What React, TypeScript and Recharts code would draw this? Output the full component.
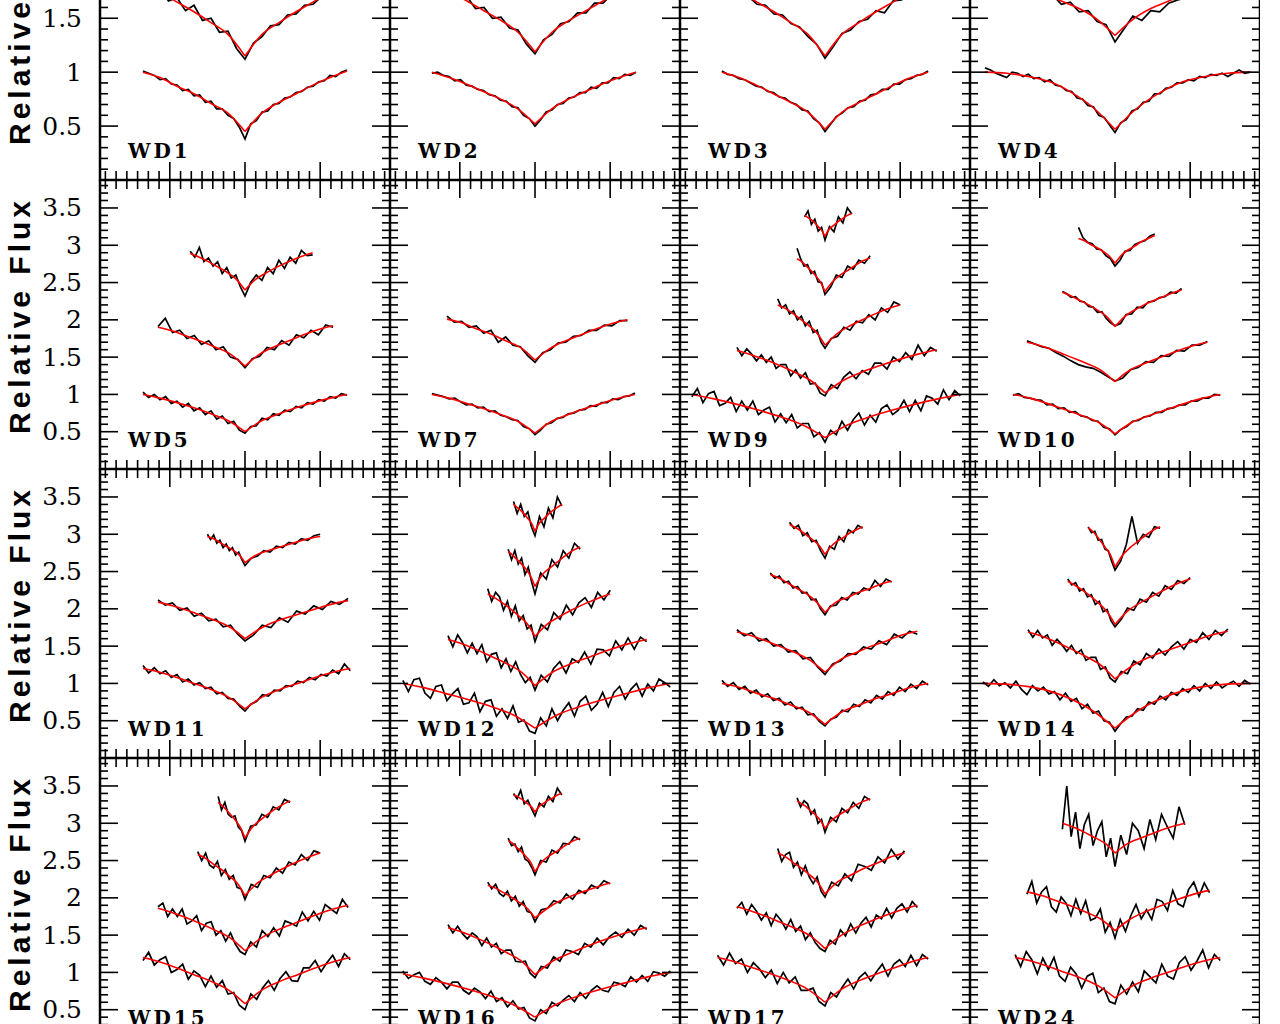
import React from 'react';
import { LineChart, Line, XAxis, YAxis, ReferenceArea } from 'recharts';

// ---------- axis ticks ----------
const xTicks = [-130,-120,-110,-100,-90,-80,-70,-60,-50,-40,-30,-20,-10,0,10,20,30,40,50,60,70,80,90,100,110,120,130];
const xMajor = [-70, 0, 70];
const yTicksTop = [0.1,0.2,0.3,0.4,0.5,0.6,0.7,0.8,0.9,1,1.1,1.2,1.3,1.4,1.5,1.6,1.7,1.8,1.9,2,2.1,2.2,2.3,2.4,2.5,2.6];
const yTicksMain = [0.1,0.2,0.3,0.4,0.5,0.6,0.7,0.8,0.9,1,1.1,1.2,1.3,1.4,1.5,1.6,1.7,1.8,1.9,2,2.1,2.2,2.3,2.4,2.5,2.6,2.7,2.8,2.9,3,3.1,3.2,3.3,3.4,3.5,3.6,3.7,3.8];
const yMajor = [0.5, 1, 1.5, 2, 2.5, 3, 3.5];
const yMajorLabels = ['0.5', '1', '1.5', '2', '2.5', '3', '3.5'];
const yDomainTop = [0, 2.68];
const yDomainMain = [0, 3.875];
const xDomain = [-135, 135];

// ---------- WD1 ----------
const wd1_x = [[-95,95],[-95,95]];
const wd1_o1 = [1.01,0.99,0.97,0.93,0.94,0.89,0.88,0.83,0.84,0.78,0.79,0.72,0.73,0.66,0.66,0.60,0.57,0.49,0.38,0.52,0.55,0.63,0.64,0.70,0.71,0.76,0.77,0.81,0.82,0.86,0.87,0.91,0.92,0.97,0.96,1.00,1.02];
const wd1_m1 = [1.00,0.95,0.87,0.80,0.71,0.62,0.45,0.62,0.72,0.80,0.88,0.95,1.01];
const wd1_o2 = [1.83,1.76,1.78,1.66,1.69,1.57,1.62,1.48,1.50,1.37,1.38,1.22,1.12,1.27,1.33,1.43,1.44,1.53,1.54,1.62,1.63,1.70,1.71,1.78,1.79];
const wd1_m2 = [1.80,1.74,1.65,1.56,1.46,1.35,1.15,1.35,1.46,1.56,1.65,1.74,1.80];
// ---------- WD2 ----------
const wd2_x = [[-96,94],[-95,95]];
const wd2_o1 = [0.99,1.00,0.97,0.96,0.92,0.93,0.88,0.87,0.84,0.83,0.79,0.78,0.74,0.73,0.68,0.67,0.60,0.57,0.50,0.56,0.63,0.65,0.70,0.71,0.76,0.77,0.81,0.81,0.86,0.85,0.90,0.90,0.95,0.94,0.98,0.97,1.00];
const wd2_m1 = [1.00,0.95,0.89,0.82,0.75,0.66,0.52,0.66,0.75,0.82,0.89,0.95,1.00];
const wd2_o2 = [1.82,1.75,1.76,1.68,1.70,1.59,1.60,1.50,1.51,1.41,1.39,1.26,1.17,1.30,1.35,1.45,1.47,1.55,1.55,1.64,1.64,1.72,1.71,1.79,1.78];
const wd2_m2 = [1.80,1.74,1.66,1.57,1.48,1.37,1.19,1.37,1.48,1.57,1.66,1.74,1.80];
// ---------- WD3 ----------
const wd3_x = [[-96,96],[-95,95]];
const wd3_o1 = [1.01,0.98,0.97,0.94,0.93,0.90,0.87,0.86,0.82,0.81,0.77,0.76,0.72,0.70,0.65,0.64,0.57,0.53,0.45,0.52,0.59,0.62,0.67,0.68,0.73,0.74,0.79,0.80,0.84,0.84,0.89,0.89,0.93,0.94,0.97,0.98,1.01];
const wd3_m1 = [1.00,0.95,0.88,0.80,0.72,0.63,0.47,0.63,0.72,0.80,0.88,0.95,1.00];
const wd3_o2 = [1.79,1.78,1.72,1.70,1.63,1.62,1.54,1.53,1.45,1.42,1.33,1.26,1.13,1.24,1.36,1.39,1.47,1.49,1.57,1.55,1.66,1.67,1.74,1.76,1.81];
const wd3_m2 = [1.80,1.74,1.65,1.56,1.46,1.35,1.15,1.35,1.46,1.56,1.65,1.74,1.80];
// ---------- WD4 ----------
const wd4_x = [[-121,126],[-100,100]];
const wd4_o1 = [1.04,1.02,0.99,0.97,0.95,1.00,0.99,0.96,0.98,0.94,0.95,0.91,0.93,0.88,0.87,0.83,0.82,0.76,0.75,0.69,0.68,0.60,0.58,0.51,0.44,0.53,0.56,0.64,0.66,0.72,0.73,0.80,0.80,0.85,0.86,0.90,0.90,0.93,0.92,0.96,0.95,0.98,0.97,0.99,0.96,0.99,1.02,0.99,1.00];
const wd4_m1 = [1.00,0.99,0.96,0.91,0.81,0.67,0.47,0.67,0.81,0.91,0.96,0.99,1.00];
const wd4_o2 = [1.87,1.83,1.78,1.79,1.71,1.72,1.63,1.65,1.56,1.57,1.47,1.44,1.28,1.40,1.52,1.48,1.57,1.56,1.64,1.67,1.69,1.76,1.78,1.81,1.86];
const wd4_m2 = [1.85,1.80,1.73,1.66,1.59,1.49,1.34,1.49,1.59,1.66,1.73,1.80,1.85];
// ---------- WD5 ----------
const wd5_x = [[-95,95],[-81,82],[-51,63]];
const wd5_o1 = [1.03,0.96,1.00,0.93,0.97,0.88,0.91,0.83,0.88,0.78,0.82,0.73,0.78,0.67,0.71,0.61,0.64,0.52,0.48,0.57,0.58,0.68,0.66,0.74,0.72,0.79,0.77,0.84,0.82,0.89,0.87,0.93,0.91,0.97,0.95,1.01,0.99];
const wd5_m1 = [1.00,0.95,0.89,0.82,0.74,0.65,0.50,0.65,0.74,0.82,0.89,0.95,1.00];
const wd5_o2 = [1.91,2.02,1.83,1.86,1.75,1.79,1.67,1.72,1.60,1.64,1.50,1.47,1.36,1.48,1.51,1.63,1.60,1.72,1.66,1.80,1.76,1.86,1.80,1.93,1.90];
const wd5_m2 = [1.90,1.85,1.78,1.71,1.63,1.54,1.38,1.54,1.64,1.72,1.80,1.87,1.92];
const wd5_o3 = [2.92,2.84,2.97,2.78,2.83,2.72,2.78,2.62,2.70,2.56,2.60,2.44,2.32,2.50,2.60,2.53,2.70,2.62,2.80,2.69,2.84,2.76,2.93,2.86,2.87];
const wd5_m3 = [2.89,2.84,2.78,2.71,2.64,2.55,2.40,2.55,2.64,2.72,2.79,2.85,2.90];
// ---------- WD7 ----------
const wd7_x = [[-96,93],[-82,86]];
const wd7_o1 = [1.01,0.99,0.97,0.94,0.95,0.90,0.86,0.87,0.82,0.83,0.77,0.78,0.72,0.70,0.66,0.65,0.57,0.54,0.46,0.52,0.60,0.62,0.68,0.69,0.74,0.75,0.79,0.80,0.85,0.84,0.89,0.89,0.94,0.93,0.97,0.98,1.02];
const wd7_m1 = [1.00,0.95,0.88,0.81,0.73,0.64,0.48,0.64,0.73,0.81,0.88,0.95,1.00];
const wd7_o2 = [2.05,1.97,1.98,1.90,1.92,1.82,1.86,1.70,1.77,1.66,1.64,1.52,1.43,1.56,1.60,1.69,1.70,1.78,1.79,1.86,1.86,1.93,1.92,1.99,1.99];
const wd7_m2 = [2.01,1.96,1.88,1.81,1.72,1.63,1.46,1.62,1.72,1.80,1.88,1.95,2.00];
// ---------- WD9 ----------
const wd9_x = [[-124,126],[-82,104],[-44,70],[-26,42],[-19,25]];
const wd9_o1 = [0.97,1.08,0.89,1.01,1.04,0.85,0.88,0.96,0.77,0.91,0.79,0.91,0.73,0.79,0.83,0.63,0.74,0.62,0.73,0.55,0.61,0.61,0.43,0.49,0.36,0.52,0.46,0.64,0.52,0.66,0.75,0.59,0.72,0.63,0.81,0.86,0.73,0.79,0.92,0.77,0.92,0.78,0.98,0.95,0.87,1.06,0.93,1.05,0.98];
const wd9_m1 = [1.00,0.94,0.87,0.79,0.70,0.59,0.42,0.59,0.70,0.79,0.87,0.94,1.00];
const wd9_o2 = [1.63,1.52,1.61,1.54,1.45,1.53,1.43,1.50,1.35,1.40,1.40,1.25,1.33,1.22,1.29,1.14,1.15,1.02,0.98,1.13,1.08,1.23,1.30,1.21,1.32,1.27,1.42,1.42,1.34,1.50,1.44,1.56,1.47,1.66,1.52,1.63,1.58];
const wd9_m2 = [1.59,1.53,1.46,1.38,1.29,1.19,1.02,1.19,1.30,1.39,1.47,1.54,1.60];
const wd9_o3 = [2.28,2.16,2.20,2.08,2.12,2.00,2.05,1.92,1.98,1.83,1.86,1.70,1.62,1.75,1.78,1.90,1.86,1.98,1.96,2.07,2.00,2.16,2.10,2.24,2.20];
const wd9_m3 = [2.20,2.15,2.08,2.00,1.92,1.82,1.66,1.82,1.92,2.00,2.08,2.15,2.20];
const wd9_o4 = [2.96,2.82,2.72,2.74,2.62,2.65,2.51,2.50,2.34,2.44,2.60,2.57,2.72,2.68,2.80,2.76,2.86];
const wd9_m4 = [2.82,2.78,2.72,2.66,2.59,2.51,2.38,2.51,2.60,2.66,2.73,2.79,2.83];
const wd9_o5 = [3.38,3.46,3.28,3.35,3.19,3.24,3.07,3.25,3.18,3.38,3.30,3.50,3.42];
const wd9_m5 = [3.40,3.37,3.34,3.30,3.25,3.20,3.12,3.22,3.27,3.32,3.36,3.40,3.43];
// ---------- WD10 ----------
const wd10_x = [[-95,98],[-82,86],[-49,62],[-34,37]];
const wd10_o1 = [0.99,1.01,0.96,0.95,0.93,0.92,0.86,0.87,0.81,0.82,0.76,0.77,0.71,0.70,0.65,0.64,0.56,0.54,0.46,0.53,0.57,0.64,0.65,0.70,0.71,0.76,0.76,0.81,0.82,0.86,0.86,0.91,0.91,0.95,0.95,1.00,0.99];
const wd10_m1 = [1.00,0.95,0.88,0.80,0.72,0.63,0.47,0.63,0.72,0.80,0.88,0.95,1.00];
const wd10_o2 = [1.72,1.68,1.64,1.62,1.56,1.51,1.45,1.40,1.37,1.35,1.30,1.24,1.18,1.22,1.33,1.36,1.44,1.43,1.52,1.51,1.59,1.58,1.66,1.66,1.71];
const wd10_m2 = [1.70,1.65,1.58,1.50,1.42,1.33,1.17,1.33,1.42,1.50,1.58,1.65,1.70];
const wd10_o3 = [2.38,2.35,2.30,2.31,2.25,2.24,2.18,2.17,2.10,2.11,2.02,1.96,1.92,1.95,2.07,2.08,2.17,2.16,2.24,2.25,2.30,2.31,2.37,2.36,2.42];
const wd10_m3 = [2.37,2.32,2.26,2.20,2.13,2.05,1.91,2.06,2.15,2.23,2.29,2.35,2.40];
const wd10_o4 = [3.24,3.10,3.04,3.02,2.95,2.94,2.86,2.82,2.72,2.80,2.92,2.93,3.01,3.04,3.06,3.12,3.15];
const wd10_m4 = [3.09,3.06,3.01,2.97,2.92,2.86,2.76,2.87,2.94,2.99,3.05,3.09,3.13];
// ---------- WD11 ----------
const wd11_x = [[-95,98],[-81,96],[-35,70]];
const wd11_o1 = [1.24,1.14,1.21,1.13,1.17,1.08,1.12,1.02,1.06,0.98,1.01,0.93,0.95,0.86,0.88,0.80,0.79,0.70,0.63,0.72,0.76,0.85,0.83,0.91,0.90,0.97,0.96,1.03,1.01,1.08,1.05,1.12,1.10,1.18,1.13,1.26,1.17];
const wd11_m1 = [1.20,1.15,1.08,1.00,0.92,0.82,0.66,0.82,0.92,1.00,1.08,1.15,1.20];
const wd11_o2 = [2.12,2.05,2.08,1.98,2.01,1.90,1.94,1.84,1.86,1.76,1.78,1.66,1.57,1.65,1.78,1.75,1.88,1.82,1.97,1.93,2.04,1.99,2.10,2.06,2.14];
const wd11_m2 = [2.09,2.04,1.98,1.91,1.84,1.75,1.60,1.75,1.85,1.92,1.99,2.06,2.11];
const wd11_o3 = [3.00,2.93,2.99,2.88,2.92,2.82,2.87,2.78,2.82,2.72,2.76,2.66,2.58,2.68,2.71,2.78,2.76,2.84,2.82,2.89,2.87,2.94,2.92,2.98,3.00];
const wd11_m3 = [2.97,2.94,2.89,2.84,2.79,2.73,2.62,2.73,2.79,2.84,2.89,2.94,2.97];
// ---------- WD12 ----------
const wd12_x = [[-123,126],[-81,104],[-44,70],[-25,42],[-20,25]];
const wd12_o1 = [1.04,0.89,1.05,1.07,0.87,0.80,0.96,0.98,0.77,0.86,0.93,0.72,0.74,0.87,0.62,0.76,0.78,0.56,0.66,0.53,0.70,0.48,0.51,0.36,0.33,0.54,0.43,0.66,0.50,0.64,0.74,0.56,0.76,0.83,0.64,0.72,0.88,0.69,0.88,0.96,0.79,0.92,1.00,0.83,0.99,0.90,1.06,1.01,0.95];
const wd12_m1 = [1.00,0.94,0.86,0.78,0.69,0.58,0.40,0.58,0.69,0.78,0.86,0.94,1.00];
const wd12_o2 = [1.64,1.49,1.65,1.55,1.41,1.54,1.40,1.52,1.29,1.39,1.41,1.21,1.33,1.16,1.29,1.12,1.01,1.08,0.91,1.11,1.02,1.20,1.29,1.14,1.33,1.28,1.42,1.26,1.46,1.45,1.37,1.57,1.45,1.61,1.46,1.62,1.56];
const wd12_m2 = [1.59,1.53,1.45,1.36,1.27,1.16,0.97,1.16,1.27,1.36,1.45,1.53,1.59];
const wd12_o3 = [2.27,2.10,2.22,2.16,1.98,2.10,1.90,2.04,1.84,1.91,1.73,1.78,1.56,1.79,1.72,1.95,1.86,2.05,1.92,2.08,2.15,2.02,2.22,2.12,2.25];
const wd12_m3 = [2.20,2.14,2.07,1.99,1.90,1.80,1.63,1.80,1.90,1.99,2.07,2.14,2.20];
const wd12_o4 = [2.80,2.66,2.78,2.60,2.68,2.46,2.56,2.36,2.20,2.48,2.40,2.66,2.56,2.78,2.68,2.88,2.80];
const wd12_m4 = [2.77,2.72,2.66,2.60,2.53,2.44,2.30,2.46,2.55,2.63,2.71,2.78,2.83];
const wd12_o5 = [3.44,3.28,3.40,3.24,3.30,3.10,2.98,3.24,3.10,3.35,3.22,3.50,3.38];
const wd12_m5 = [3.40,3.36,3.32,3.27,3.21,3.15,3.04,3.15,3.21,3.27,3.32,3.36,3.40];
// ---------- WD13 ----------
const wd13_x = [[-96,96],[-82,86],[-51,62],[-33,35]];
const wd13_o1 = [1.04,0.96,1.01,0.92,0.96,0.87,0.91,0.82,0.86,0.77,0.80,0.71,0.75,0.66,0.68,0.58,0.59,0.49,0.43,0.52,0.55,0.64,0.62,0.72,0.69,0.78,0.74,0.84,0.79,0.89,0.84,0.95,0.89,0.99,0.93,1.03,0.98];
const wd13_m1 = [1.00,0.95,0.87,0.80,0.71,0.62,0.45,0.62,0.71,0.80,0.87,0.95,1.00];
const wd13_o2 = [1.72,1.64,1.68,1.57,1.60,1.50,1.52,1.42,1.44,1.33,1.35,1.22,1.12,1.26,1.30,1.40,1.39,1.49,1.46,1.57,1.52,1.66,1.61,1.70,1.66];
const wd13_m2 = [1.69,1.64,1.57,1.49,1.41,1.31,1.15,1.32,1.41,1.50,1.57,1.65,1.70];
const wd13_o3 = [2.48,2.41,2.44,2.35,2.37,2.28,2.30,2.21,2.22,2.12,2.13,2.00,1.92,2.04,2.05,2.15,2.12,2.22,2.20,2.28,2.25,2.38,2.30,2.40,2.36];
const wd13_m3 = [2.46,2.41,2.34,2.27,2.20,2.10,1.95,2.09,2.15,2.22,2.27,2.33,2.37];
const wd13_o4 = [3.16,3.08,3.12,2.98,3.02,2.90,2.92,2.78,2.68,2.84,2.80,2.97,2.90,3.06,3.02,3.12,3.08];
const wd13_m4 = [3.13,3.09,3.04,2.98,2.92,2.85,2.73,2.84,2.91,2.96,3.02,3.06,3.10];
// ---------- WD14 ----------
const wd14_x = [[-123,126],[-81,105],[-44,70],[-25,42]];
const wd14_o1 = [1.02,0.96,1.05,0.97,1.01,0.94,1.03,0.92,0.85,0.97,0.90,0.95,0.86,0.89,0.78,0.87,0.76,0.80,0.66,0.72,0.60,0.63,0.50,0.48,0.36,0.46,0.55,0.56,0.66,0.64,0.75,0.72,0.83,0.78,0.88,0.84,0.93,0.88,0.97,0.90,1.00,0.93,1.02,0.94,0.99,1.03,0.96,1.04,0.99];
const wd14_m1 = [1.00,0.99,0.96,0.90,0.79,0.63,0.40,0.63,0.79,0.90,0.96,0.99,1.00];
const wd14_o2 = [1.72,1.62,1.71,1.61,1.65,1.51,1.59,1.52,1.43,1.51,1.40,1.45,1.31,1.35,1.35,1.19,1.22,1.07,1.02,1.16,1.13,1.30,1.25,1.40,1.34,1.46,1.38,1.49,1.56,1.46,1.59,1.55,1.68,1.59,1.71,1.64,1.73];
const wd14_m2 = [1.69,1.63,1.55,1.46,1.36,1.25,1.06,1.25,1.37,1.46,1.55,1.64,1.70];
const wd14_o3 = [2.40,2.32,2.35,2.24,2.27,2.16,2.19,2.06,2.10,1.96,1.99,1.84,1.76,1.86,2.01,1.98,2.13,2.09,2.22,2.17,2.31,2.26,2.38,2.34,2.42];
const wd14_m3 = [2.37,2.31,2.24,2.16,2.07,1.96,1.79,1.97,2.08,2.17,2.26,2.34,2.40];
const wd14_o4 = [3.10,3.02,3.04,2.92,2.93,2.80,2.78,2.64,2.52,2.64,2.86,3.24,2.88,3.00,2.96,3.10,3.08];
const wd14_m4 = [3.09,3.04,2.97,2.89,2.81,2.72,2.56,2.72,2.82,2.90,2.98,3.05,3.10];
// ---------- WD15 ----------
const wd15_x = [[-95,98],[-81,96],[-44,70],[-25,42]];
const wd15_o1 = [1.16,1.27,1.10,1.17,1.21,1.00,1.04,1.11,0.91,1.02,0.96,0.81,0.95,0.80,0.89,0.71,0.73,0.56,0.50,0.71,0.64,0.79,0.89,0.76,0.92,1.01,0.89,0.88,1.06,1.06,1.16,1.01,1.13,1.23,1.08,1.25,1.17];
const wd15_m1 = [1.20,1.14,1.06,0.97,0.88,0.77,0.58,0.77,0.88,0.97,1.06,1.14,1.20];
const wd15_o2 = [1.88,1.93,1.75,1.85,1.75,1.85,1.65,1.69,1.76,1.56,1.66,1.68,1.50,1.56,1.42,1.53,1.38,1.28,1.24,1.41,1.34,1.56,1.48,1.60,1.49,1.69,1.66,1.62,1.81,1.69,1.82,1.70,1.91,1.85,1.79,1.98,1.87];
const wd15_m2 = [1.86,1.80,1.73,1.65,1.56,1.46,1.29,1.47,1.58,1.67,1.76,1.84,1.90];
const wd15_o3 = [2.62,2.50,2.60,2.44,2.40,2.49,2.30,2.38,2.25,2.30,2.14,2.12,1.98,2.18,2.14,2.30,2.27,2.40,2.33,2.48,2.44,2.58,2.50,2.63,2.60];
const wd15_m3 = [2.58,2.53,2.45,2.38,2.29,2.20,2.03,2.20,2.30,2.39,2.47,2.54,2.60];
const wd15_o4 = [3.36,3.18,3.28,3.12,3.08,3.10,2.95,2.90,2.76,2.96,2.98,3.12,3.08,3.22,3.18,3.32,3.28];
const wd15_m4 = [3.28,3.23,3.17,3.10,3.03,2.94,2.80,2.95,3.04,3.12,3.19,3.25,3.30];
// ---------- WD16 ----------
const wd16_x = [[-123,126],[-81,104],[-44,70],[-25,42],[-20,25]];
const wd16_o1 = [1.02,0.92,0.97,1.00,0.88,0.84,0.93,0.87,0.78,0.87,0.87,0.76,0.71,0.79,0.74,0.65,0.75,0.61,0.66,0.54,0.62,0.51,0.53,0.39,0.35,0.50,0.45,0.60,0.55,0.63,0.69,0.61,0.73,0.65,0.76,0.82,0.76,0.74,0.87,0.85,0.81,0.94,0.87,0.96,0.88,1.01,0.99,0.95,1.02];
const wd16_m1 = [0.98,0.92,0.85,0.77,0.68,0.57,0.40,0.58,0.69,0.78,0.86,0.94,1.00];
const wd16_o2 = [1.64,1.53,1.62,1.52,1.45,1.53,1.48,1.36,1.46,1.34,1.39,1.25,1.30,1.30,1.15,1.14,1.15,0.99,0.93,1.08,1.06,1.21,1.15,1.30,1.28,1.24,1.39,1.34,1.46,1.37,1.48,1.54,1.47,1.58,1.50,1.63,1.58];
const wd16_m2 = [1.60,1.54,1.46,1.37,1.27,1.16,0.97,1.16,1.27,1.37,1.46,1.54,1.60];
const wd16_o3 = [2.21,2.12,2.18,2.06,2.02,2.09,1.96,2.02,1.89,1.95,1.82,1.80,1.68,1.84,1.86,1.96,1.93,2.05,1.98,2.10,2.06,2.17,2.13,2.23,2.19];
const wd16_m3 = [2.17,2.13,2.07,2.01,1.94,1.86,1.73,1.86,1.96,2.03,2.09,2.15,2.20];
const wd16_o4 = [2.80,2.70,2.72,2.62,2.68,2.52,2.49,2.41,2.31,2.50,2.48,2.64,2.60,2.73,2.72,2.82,2.78];
const wd16_m4 = [2.77,2.73,2.67,2.62,2.55,2.48,2.35,2.49,2.57,2.63,2.70,2.76,2.80];
const wd16_o5 = [3.40,3.33,3.44,3.26,3.31,3.20,3.10,3.27,3.22,3.36,3.29,3.47,3.38];
const wd16_m5 = [3.38,3.36,3.33,3.30,3.26,3.22,3.15,3.23,3.27,3.31,3.34,3.38,3.40];
// ---------- WD17 ----------
const wd17_x = [[-100,96],[-82,86],[-44,74],[-26,42]];
const wd17_o1 = [1.23,1.10,1.26,1.12,1.18,1.00,1.13,1.05,0.93,1.03,0.85,1.00,0.86,0.94,0.76,0.76,0.79,0.61,0.55,0.73,0.67,0.80,0.91,0.78,0.93,1.00,0.89,1.01,1.11,0.95,1.11,1.17,1.08,1.23,1.09,1.24,1.18];
const wd17_m1 = [1.20,1.14,1.06,0.98,0.89,0.78,0.60,0.78,0.89,0.98,1.06,1.14,1.20];
const wd17_o2 = [1.86,1.94,1.78,1.91,1.82,1.70,1.80,1.63,1.78,1.70,1.58,1.71,1.55,1.62,1.44,1.53,1.40,1.32,1.28,1.43,1.38,1.57,1.49,1.65,1.53,1.66,1.74,1.61,1.77,1.72,1.86,1.73,1.86,1.92,1.81,1.95,1.87];
const wd17_m2 = [1.88,1.82,1.75,1.67,1.59,1.49,1.32,1.49,1.60,1.69,1.77,1.84,1.90];
const wd17_o3 = [2.66,2.49,2.58,2.61,2.41,2.48,2.31,2.43,2.28,2.19,2.28,2.09,2.01,2.21,2.16,2.32,2.23,2.45,2.42,2.37,2.55,2.47,2.65,2.52,2.63];
const wd17_m3 = [2.60,2.55,2.47,2.40,2.31,2.22,2.05,2.22,2.31,2.40,2.47,2.55,2.60];
const wd17_o4 = [3.34,3.22,3.30,3.26,3.12,3.18,3.00,3.05,2.88,3.08,3.02,3.20,3.14,3.28,3.20,3.36,3.31];
const wd17_m4 = [3.30,3.26,3.22,3.16,3.11,3.04,2.93,3.05,3.12,3.18,3.24,3.29,3.33];
// ---------- WD24 ----------
const wd24_x = [[-93,98],[-82,88],[-49,65]];
const wd24_o1 = [1.24,1.08,1.28,1.17,0.98,1.19,1.04,1.20,0.95,0.88,1.07,0.98,0.79,0.95,0.99,0.73,0.79,0.61,0.58,0.83,0.71,0.87,0.74,1.02,0.94,0.86,1.11,0.95,0.91,1.13,1.21,1.03,1.15,1.30,1.06,1.24,1.16];
const wd24_m1 = [1.20,1.15,1.08,1.00,0.92,0.82,0.66,0.82,0.92,1.00,1.08,1.15,1.20];
const wd24_o2 = [2.05,2.22,1.93,2.08,2.15,1.88,1.81,2.01,1.93,1.76,1.98,1.79,1.96,1.70,1.73,1.85,1.54,1.67,1.46,1.71,1.55,1.76,1.91,1.72,1.84,1.71,1.98,1.95,1.83,2.10,1.92,1.88,2.11,2.21,2.02,2.20,2.07];
const wd24_m2 = [2.08,2.03,1.96,1.89,1.81,1.72,1.56,1.72,1.82,1.90,1.98,2.05,2.10];
const wd24_o3 = [2.92,3.50,2.82,3.15,2.66,2.98,3.12,2.70,2.90,3.02,2.55,2.80,2.42,2.84,2.58,3.00,2.90,2.66,3.05,2.78,3.12,2.95,2.80,3.22,2.98];
const wd24_m3 = [3.00,2.96,2.91,2.85,2.79,2.72,2.60,2.72,2.79,2.85,2.91,2.96,3.00];

// ---------- panel table (built from the arrays above) ----------
const panels = [
  { name: 'WD1', row: 0, col: 0, ext: wd1_x, obs: [wd1_o1, wd1_o2], mod: [wd1_m1, wd1_m2] },
  { name: 'WD2', row: 0, col: 1, ext: wd2_x, obs: [wd2_o1, wd2_o2], mod: [wd2_m1, wd2_m2] },
  { name: 'WD3', row: 0, col: 2, ext: wd3_x, obs: [wd3_o1, wd3_o2], mod: [wd3_m1, wd3_m2] },
  { name: 'WD4', row: 0, col: 3, ext: wd4_x, obs: [wd4_o1, wd4_o2], mod: [wd4_m1, wd4_m2] },
  { name: 'WD5', row: 1, col: 0, ext: wd5_x, obs: [wd5_o1, wd5_o2, wd5_o3], mod: [wd5_m1, wd5_m2, wd5_m3] },
  { name: 'WD7', row: 1, col: 1, ext: wd7_x, obs: [wd7_o1, wd7_o2], mod: [wd7_m1, wd7_m2] },
  { name: 'WD9', row: 1, col: 2, ext: wd9_x, obs: [wd9_o1, wd9_o2, wd9_o3, wd9_o4, wd9_o5], mod: [wd9_m1, wd9_m2, wd9_m3, wd9_m4, wd9_m5] },
  { name: 'WD10', row: 1, col: 3, ext: wd10_x, obs: [wd10_o1, wd10_o2, wd10_o3, wd10_o4], mod: [wd10_m1, wd10_m2, wd10_m3, wd10_m4] },
  { name: 'WD11', row: 2, col: 0, ext: wd11_x, obs: [wd11_o1, wd11_o2, wd11_o3], mod: [wd11_m1, wd11_m2, wd11_m3] },
  { name: 'WD12', row: 2, col: 1, ext: wd12_x, obs: [wd12_o1, wd12_o2, wd12_o3, wd12_o4, wd12_o5], mod: [wd12_m1, wd12_m2, wd12_m3, wd12_m4, wd12_m5] },
  { name: 'WD13', row: 2, col: 2, ext: wd13_x, obs: [wd13_o1, wd13_o2, wd13_o3, wd13_o4], mod: [wd13_m1, wd13_m2, wd13_m3, wd13_m4] },
  { name: 'WD14', row: 2, col: 3, ext: wd14_x, obs: [wd14_o1, wd14_o2, wd14_o3, wd14_o4], mod: [wd14_m1, wd14_m2, wd14_m3, wd14_m4] },
  { name: 'WD15', row: 3, col: 0, ext: wd15_x, obs: [wd15_o1, wd15_o2, wd15_o3, wd15_o4], mod: [wd15_m1, wd15_m2, wd15_m3, wd15_m4] },
  { name: 'WD16', row: 3, col: 1, ext: wd16_x, obs: [wd16_o1, wd16_o2, wd16_o3, wd16_o4, wd16_o5], mod: [wd16_m1, wd16_m2, wd16_m3, wd16_m4, wd16_m5] },
  { name: 'WD17', row: 3, col: 2, ext: wd17_x, obs: [wd17_o1, wd17_o2, wd17_o3, wd17_o4], mod: [wd17_m1, wd17_m2, wd17_m3, wd17_m4] },
  { name: 'WD24', row: 3, col: 3, ext: wd24_x, obs: [wd24_o1, wd24_o2, wd24_o3], mod: [wd24_m1, wd24_m2, wd24_m3] },
];

// ---------- layout ----------
const PLOT_W = 290;
const PLOT_H = 289;
const LEFT_PAD = 100;
const TOP0 = -109;

// values sampled evenly from the left end to the line centre, and from the centre to the right end
function toPoints(values: number[], ext: number[]) {
  const n = values.length;
  const c = Math.floor(n / 2);
  return values.map((y, i) => ({
    x: i <= c ? (ext[0] * (c - i)) / c : (ext[1] * (i - c)) / (n - 1 - c),
    y,
  }));
}

function Panel({ p }: { p: any }) {
  const isTop = p.row === 0;
  const yDomain = isTop ? yDomainTop : yDomainMain;
  const yTicks = isTop ? yTicksTop : yTicksMain;
  const first = p.col === 0;
  const yW = first ? LEFT_PAD : 1;
  const width = PLOT_W + yW;
  const height = PLOT_H + 1;
  const left = first ? 0 : LEFT_PAD + p.col * PLOT_W - 1;
  const top = TOP0 + p.row * PLOT_H;

  const renderXTick = (props: any) => {
    const { x, y, payload } = props;
    const major = xMajor.indexOf(payload.value) >= 0;
    const len = major ? 18 : 9;
    return (
      <g>
        <line x1={x} x2={x} y1={y} y2={y - len} stroke="#000" strokeWidth={1.6} />
        <line x1={x} x2={x} y1={y - PLOT_H} y2={y - PLOT_H + len} stroke="#000" strokeWidth={1.6} />
        {payload.value === xTicks[0] ? (
          <text
            x={yW + 28}
            y={PLOT_H - 22}
            fontFamily="'DejaVu Serif', serif"
            fontWeight="bold"
            fontSize={20}
            letterSpacing={3}
            fill="#000"
          >
            {p.name}
          </text>
        ) : null}
      </g>
    );
  };

  const renderYTick = (props: any) => {
    const { x, y, payload } = props;
    const mi = yMajor.indexOf(payload.value);
    const len = mi >= 0 ? 18 : 8;
    return (
      <g>
        <line x1={x} x2={x + len} y1={y} y2={y} stroke="#000" strokeWidth={1.6} />
        <line x1={x + PLOT_W} x2={x + PLOT_W - len} y1={y} y2={y} stroke="#000" strokeWidth={1.6} />
        {first && mi >= 0 ? (
          <text
            x={x - 18}
            y={y}
            textAnchor="end"
            dominantBaseline="central"
            fontFamily="'DejaVu Serif', serif"
            fontSize={25}
            fill="#000"
          >
            {yMajorLabels[mi]}
          </text>
        ) : null}
        {first && payload.value === yTicks[0] ? (
          <text
            x={30}
            y={PLOT_H / 2 - 9}
            transform={`rotate(-90 30 ${PLOT_H / 2 - 9})`}
            textAnchor="middle"
            fontFamily="'Liberation Sans', Arial, sans-serif"
            fontWeight="bold"
            fontSize={30}
            letterSpacing={4}
            fill="#000"
          >
            Relative Flux
          </text>
        ) : null}
      </g>
    );
  };

  const series: any[] = [];
  p.obs.forEach((o: number[], i: number) => {
    const ext = p.ext[i];
    const obsPts = toPoints(o, ext);
    const modPts = toPoints(p.mod[i], ext);
    const c = Math.floor(modPts.length / 2);
    series.push(
      <Line key={`o${i}`} data={obsPts} dataKey="y" type="linear" stroke="#000" strokeWidth={1.7} dot={false} isAnimationActive={false} />
    );
    series.push(
      <Line key={`ml${i}`} data={modPts.slice(0, c + 1)} dataKey="y" type="monotone" stroke="#ff0000" strokeWidth={1.6} dot={false} isAnimationActive={false} />
    );
    series.push(
      <Line key={`mr${i}`} data={modPts.slice(c)} dataKey="y" type="monotone" stroke="#ff0000" strokeWidth={1.6} dot={false} isAnimationActive={false} />
    );
  });

  return (
    <div style={{ position: 'absolute', left, top, width, height }}>
      <LineChart width={width} height={height} margin={{ top: 0, right: 0, bottom: 0, left: 0 }}>
        <XAxis
          type="number"
          dataKey="x"
          domain={xDomain}
          ticks={xTicks}
          interval={0}
          height={1}
          tickSize={0}
          tickMargin={0}
          axisLine={false}
          tickLine={false}
          allowDataOverflow
          tick={renderXTick}
        />
        <YAxis
          type="number"
          domain={yDomain}
          ticks={yTicks}
          interval={0}
          width={yW}
          tickSize={0}
          tickMargin={0}
          axisLine={false}
          tickLine={false}
          allowDataOverflow
          tick={renderYTick}
        />
        <ReferenceArea
          x1={xDomain[0]}
          x2={xDomain[1]}
          y1={yDomain[0]}
          y2={yDomain[1]}
          fill="none"
          fillOpacity={0}
          stroke="#000"
          strokeWidth={2.5}
        />
        {series}
      </LineChart>
    </div>
  );
}

export default function App() {
  return (
    <div
      style={{
        position: 'absolute',
        left: 0,
        top: 0,
        width: 1280,
        height: 1024,
        overflow: 'hidden',
        background: '#fff',
      }}
    >
      {panels.map((p) => (
        <Panel key={p.name} p={p} />
      ))}
    </div>
  );
}
